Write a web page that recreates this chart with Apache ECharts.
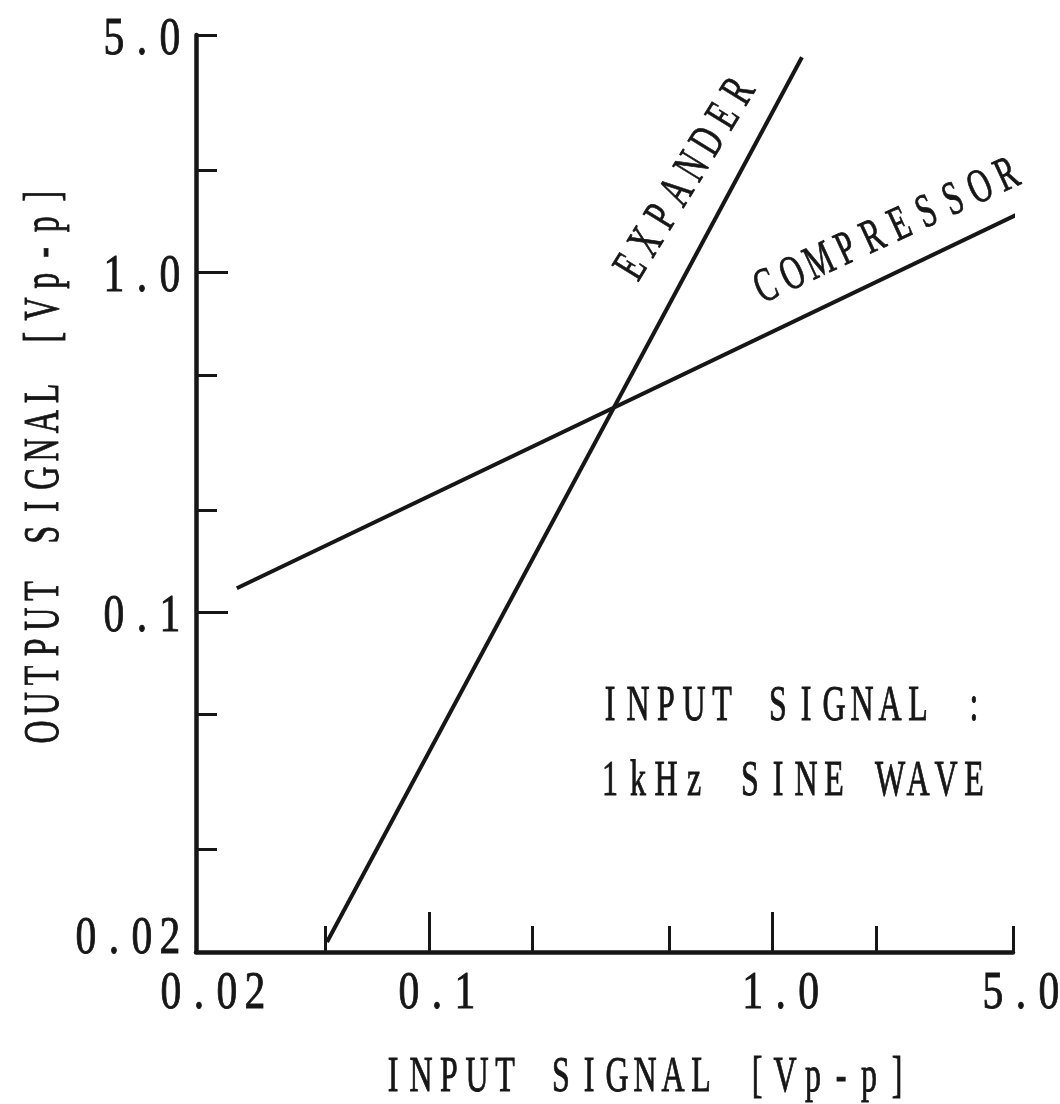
<!DOCTYPE html>
<html>
<head>
<meta charset="utf-8">
<script src="https://cdn.jsdelivr.net/npm/echarts@6/dist/echarts.min.js"></script>
<style>html,body{margin:0;padding:0;background:#fff}#c{width:1060px;height:1104px}</style>
</head>
<body>
<div id="c"></div>
<script>
// ---- data ----
const xAxisMin = 0.021;
const xAxisMax = 5;
const yAxisMin = 0.01;
const yAxisMax = 5;
const xTickMajor = [0.1, 1];
const xTickMinor = [0.05, 0.2, 0.5, 2, 5];
const xLabelValues = [0.021, 0.1, 1, 5];
const xLabelTexts = ['0.02', '0.1', '1.0', '5.0'];
const yTickMajor = [1, 0.1];
const yTickMinor = [5, 2, 0.5, 0.2, 0.05, 0.02];
const yLabelValues = [5, 1, 0.1, 0.01];
const yLabelTexts = ['5.0', '1.0', '0.1', '0.02'];
const expanderIn = [0.0505, 1.216];
const expanderOut = [0.0107, 4.30];
const compressorIn = [0.0276, 5.60];
const compressorOut = [0.1177, 1.545];
const seriesNames = ['EXPANDER', 'COMPRESSOR'];
const xName = 'INPUT SIGNAL [Vp-p]';
const yName = 'OUTPUT SIGNAL [Vp-p]';
const noteLines = ['INPUT SIGNAL :', '1kHz SINE WAVE'];

// ---- helpers ----
const FONT = "'Liberation Serif', 'DejaVu Serif', serif";
const INK = '#161616';
function mono(str) { return str.split('').map(ch => '{c|' + ch + '}').join(''); }
// monospaced-cell rich text style; cellW is in unscaled units
function monoStyle(str, cellW, size, align, vAlign) {
  return {
    text: mono(str), align: align, verticalAlign: vAlign, fill: INK,
    rich: { c: { width: cellW, align: 'center', fontFamily: FONT, fontSize: size, fill: INK, color: INK, stroke: INK, lineWidth: 0.9 } }
  };
}
function pairs(xs, ys) { return xs.map((x, i) => [x, ys[i]]); }

const chart = echarts.init(document.getElementById('c'));
const tickStyle = { color: INK, width: 3 };
const TICK_SCALE = 0.8;   // horizontal condensation of the typewriter-like face
const NAME_SCALE = 0.64;

const option = {
  animation: false,
  backgroundColor: '#ffffff',
  grid: { left: 196, top: 35, width: 817, height: 917, containLabel: false, outerBoundsMode: 'none' },
  xAxis: [
    {
      type: 'log', logBase: 10, min: xAxisMin, max: xAxisMax, position: 'bottom',
      axisLine: { show: true, lineStyle: { color: INK, width: 4.5 } },
      axisTick: { show: true, inside: true, length: 40, lineStyle: tickStyle, customValues: xTickMajor },
      minorTick: { show: false }, splitLine: { show: false }, axisLabel: { show: false }
    },
    {
      type: 'log', logBase: 10, min: xAxisMin, max: xAxisMax, position: 'bottom',
      axisLine: { show: false },
      axisTick: { show: true, inside: true, length: 26, lineStyle: tickStyle, customValues: xTickMinor },
      minorTick: { show: false }, splitLine: { show: false }, axisLabel: { show: false }
    }
  ],
  yAxis: [
    {
      type: 'log', logBase: 10, min: yAxisMin, max: yAxisMax, position: 'left',
      axisLine: { show: true, lineStyle: { color: INK, width: 4.5 } },
      axisTick: { show: true, inside: true, length: 32, lineStyle: tickStyle, customValues: yTickMajor },
      minorTick: { show: false }, splitLine: { show: false }, axisLabel: { show: false }
    },
    {
      type: 'log', logBase: 10, min: yAxisMin, max: yAxisMax, position: 'left',
      axisLine: { show: false },
      axisTick: { show: true, inside: true, length: 21, lineStyle: tickStyle, customValues: yTickMinor },
      minorTick: { show: false }, splitLine: { show: false }, axisLabel: { show: false }
    }
  ],
  series: [
    {
      name: seriesNames[0], type: 'line', xAxisIndex: 0, yAxisIndex: 0, clip: false,
      data: pairs(expanderIn, expanderOut), showSymbol: false, symbol: 'none',
      lineStyle: { color: INK, width: 4 }
    },
    {
      name: seriesNames[1], type: 'line', xAxisIndex: 0, yAxisIndex: 0, clip: false,
      data: pairs(compressorIn, compressorOut), showSymbol: false, symbol: 'none',
      lineStyle: { color: INK, width: 4 }
    },
    {
      // x tick labels, placed through the x scale
      type: 'custom', coordinateSystem: 'cartesian2d', xAxisIndex: 0, yAxisIndex: 0, clip: false, silent: true,
      data: xLabelValues.map((v, i) => [v, yAxisMin, i]),
      renderItem: function (params, api) {
        const i = api.value(2);
        const p = api.coord([api.value(0), api.value(1)]);
        return {
          type: 'text', x: p[0] + (i === 0 ? 17 : 8), y: p[1] + 42, scaleX: TICK_SCALE,
          style: monoStyle(xLabelTexts[i], 28 / TICK_SCALE, 52, 'center', 'middle')
        };
      }
    },
    {
      // y tick labels, placed through the y scale
      type: 'custom', coordinateSystem: 'cartesian2d', xAxisIndex: 0, yAxisIndex: 0, clip: false, silent: true,
      data: yLabelValues.map((v, i) => [xAxisMin, v, i]),
      renderItem: function (params, api) {
        const i = api.value(2);
        const p = api.coord([api.value(0), api.value(1)]);
        const last = i === yLabelValues.length - 1;
        return {
          type: 'text', x: p[0] - 12, y: p[1] + (last ? -13 : 5), scaleX: TICK_SCALE,
          style: monoStyle(yLabelTexts[i], 28 / TICK_SCALE, 52, 'right', 'middle')
        };
      }
    }
  ],
  graphic: [
    { type: 'text', x: 645, y: 1078, scaleX: NAME_SCALE, style: monoStyle(xName, 28 / NAME_SCALE, 50, 'center', 'middle') },
    { type: 'text', x: 45, y: 464, rotation: Math.PI / 2, scaleX: NAME_SCALE, style: monoStyle(yName, 28.2 / NAME_SCALE, 50, 'center', 'middle') },
    { type: 'text', x: 596, y: 707, scaleX: NAME_SCALE, style: monoStyle(noteLines[0], 28 / NAME_SCALE, 50, 'left', 'middle') },
    { type: 'text', x: 596, y: 782, scaleX: NAME_SCALE, style: monoStyle(noteLines[1], 28 / NAME_SCALE, 50, 'left', 'middle') },
    { type: 'text', x: 686, y: 180, rotation: 58.5 * Math.PI / 180, scaleX: NAME_SCALE, style: monoStyle(seriesNames[0], 29.5 / NAME_SCALE, 48, 'center', 'middle') },
    { type: 'text', x: 887, y: 232, rotation: 24.8 * Math.PI / 180, scaleX: NAME_SCALE, style: monoStyle(seriesNames[1], 29.5 / NAME_SCALE, 48, 'center', 'middle') }
  ]
};
chart.setOption(option);
</script>
</body>
</html>
